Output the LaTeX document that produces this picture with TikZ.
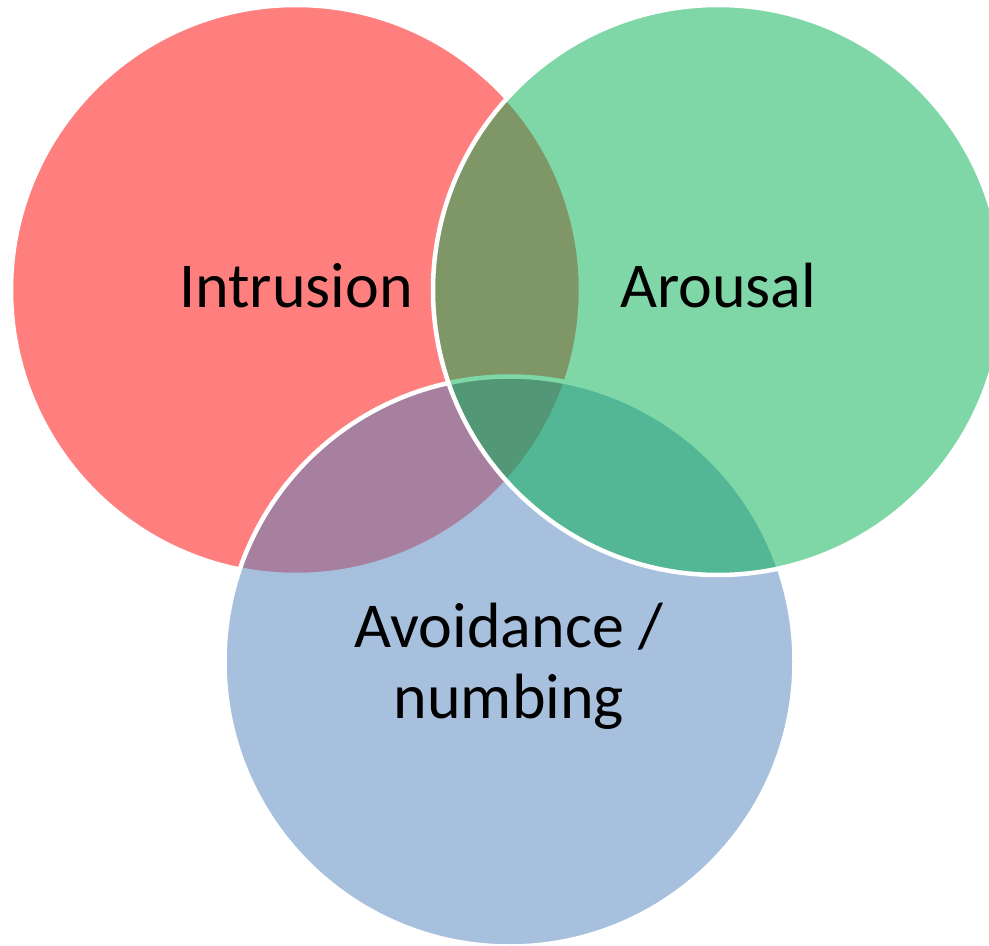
\documentclass[tikz,border=0pt]{standalone}
\usepackage{fontspec}
\setmainfont{Carlito}
\definecolor{intred}{HTML}{FF0000}
\definecolor{arogreen}{HTML}{00B050}
\definecolor{avoblue}{HTML}{4F81BD}
\begin{document}
\begin{tikzpicture}[x=0.025cm,y=-0.025cm,
  venn/.style={draw=white,line width=3.2pt,fill opacity=0.5},
  lbl/.style={font=\fontsize{45.5}{50}\selectfont,anchor=base,align=center}]
  \useasboundingbox (0,0) rectangle (989,946);
  % circles: red, then blue, then green on top
  \filldraw[venn,fill=intred] (296,290) circle (285);
  \filldraw[venn,fill=avoblue] (509.5,661.5) circle (285);
  \filldraw[venn,fill=arogreen] (718,290) circle (285);
  % labels
  \node[lbl] (intrusion) at (296,307) {Intrusion};
  \node[lbl] (arousal) at (718,307) {Arousal};
  \node[lbl] (avoidance) at (509,718) {Avoidance /\\numbing};
\end{tikzpicture}
\end{document}
